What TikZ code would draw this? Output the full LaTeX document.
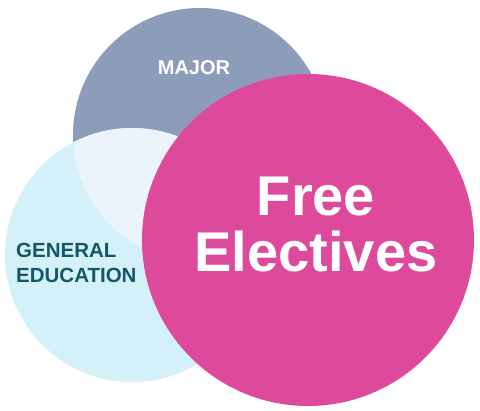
\documentclass[tikz,border=0pt]{standalone}
\usepackage{fontspec}
\setmainfont{Liberation Sans}
\usetikzlibrary{positioning, shapes.arrows}
\definecolor{majorblue}{RGB}{141,157,185}
\definecolor{genedcyan}{RGB}{212,240,249}
\definecolor{overlapcyan}{RGB}{234,244,250}
\definecolor{freepink}{RGB}{221,74,156}
\definecolor{genedtext}{RGB}{18,88,104}
\tikzset{
    every node/.style={inner sep=2pt},
    setcircle/.style={circle, draw=none, inner sep=0pt},
    bigtext/.style={font=\bfseries\fontsize{56}{60}\selectfont, text=white, align=center},
    smalltext/.style={font=\bfseries\fontsize{20.5}{25}\selectfont, align=left}
}

\begin{document}
\begin{tikzpicture}[x=1pt, y=-1pt]
                \useasboundingbox (0,0) rectangle (480,411);
                \node[setcircle, minimum size=254pt, fill=majorblue] (major) at (200,135) {};
                \node[setcircle, minimum size=254pt, fill=genedcyan] (gened) at (132,255) {};
                \begin{scope}
                    \clip (200,135) circle (127);
                    \fill[overlapcyan] (gened.center) circle (127);
                \end{scope}
                \node[double arrow, draw=white, opacity=0.7, thin, rounded corners=2pt,
                    minimum height=34pt, minimum width=15pt, rotate=43] (link) at (115,162) {};
                \node[setcircle, minimum size=332pt, fill=freepink] (free) at (308,240) {};

                \node[font=\bfseries\fontsize{20}{24}\selectfont, text=white] (majorlabel) at (194,68) {MAJOR};
                \node[smalltext, text=genedtext, anchor=west] (gedlabel) at (14,263) {GENERAL\\EDUCATION};
                \node[bigtext] (freelabel) at (316,225) {Free\\[-4pt]Electives};
            \end{tikzpicture}
\end{document}
